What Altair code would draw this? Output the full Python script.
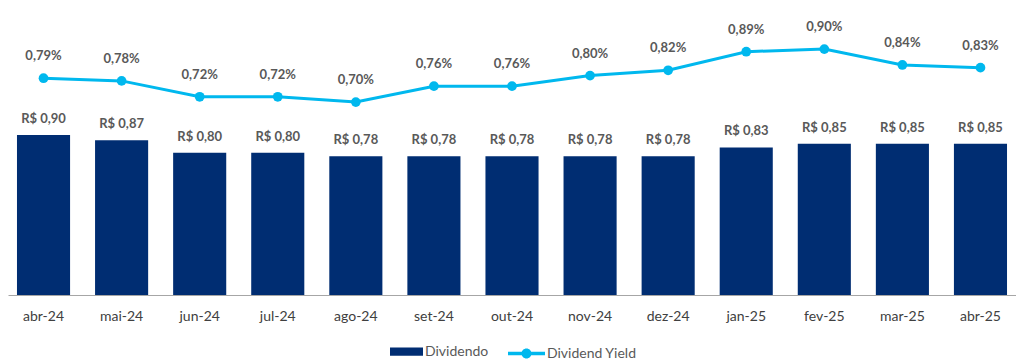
import altair as alt
import pandas as pd

months = ["abr-24", "mai-24", "jun-24", "jul-24", "ago-24", "set-24", "out-24",
          "nov-24", "dez-24", "jan-25", "fev-25", "mar-25", "abr-25"]
dividends = [0.90, 0.87, 0.80, 0.80, 0.78, 0.78, 0.78, 0.78, 0.78, 0.83, 0.85, 0.85, 0.85]
yields = [0.79, 0.78, 0.72, 0.72, 0.70, 0.76, 0.76, 0.80, 0.82, 0.89, 0.90, 0.84, 0.83]

NAVY = "#002D72"
CYAN = "#00B8EE"
TXT = "#595959"
FONT = "Lato"

df = pd.DataFrame({
    "mes": months,
    "div": dividends,
    "dy": yields,
    "s1": ["Dividendo"] * len(months),
    "s2": ["Dividend Yield"] * len(months),
})

base = alt.Chart(df).transform_calculate(
    divlab="'R$ ' + replace(format(datum.div, '.2f'), '.', ',')",
    dylab="replace(format(datum.dy, '.2f'), '.', ',') + '%'",
)

x = alt.X("mes:N", sort=months,
          scale=alt.Scale(paddingInner=0.32, paddingOuter=0.115),
          axis=alt.Axis(title=None, labelAngle=0, ticks=False, domainColor="#A6A6A6",
                        domainWidth=1, labelPadding=14, labelFont=FONT, labelFontSize=14,
                        labelColor="#404040"))

ybar = alt.Y("div:Q", scale=alt.Scale(domain=[0, 1.614]), axis=None)
yline = alt.Y("dy:Q", scale=alt.Scale(domain=[-0.028, 1.055]), axis=None)

bars = base.mark_bar().encode(
    x=x, y=ybar,
    color=alt.Color("s1:N", scale=alt.Scale(domain=["Dividendo"], range=[NAVY]),
                    legend=alt.Legend(title=None, orient="none", legendX=382, legendY=327,
                                      symbolType="M-1,-0.25L1,-0.25L1,0.25L-1,0.25Z",
                                      symbolSize=1089, symbolStrokeWidth=0,
                                      labelFont=FONT, labelFontSize=14, labelColor=TXT,
                                      labelOffset=2, padding=0)),
)

bar_text = base.mark_text(dy=-16, font=FONT, fontSize=13, fontWeight="bold", color=TXT).encode(
    x=x, y=ybar, text="divlab:N")

line = base.mark_line(color=CYAN, strokeWidth=3).encode(x=x, y=yline)

LINE_SYM = ("M-1,-0.09L-0.2,-0.09L-0.2,0.09L-1,0.09Z "
            "M0.2,-0.09L1,-0.09L1,0.09L0.2,0.09Z "
            "M-0.27,0A0.27,0.27 0 1,1 0.27,0A0.27,0.27 0 1,1 -0.27,0Z")

pts = base.mark_point(filled=True, size=95, opacity=1).encode(
    x=x, y=yline,
    color=alt.Color("s2:N", scale=alt.Scale(domain=["Dividend Yield"], range=[CYAN]),
                    legend=alt.Legend(title=None, orient="none", legendX=500, legendY=327,
                                      symbolType=LINE_SYM,
                                      symbolSize=1369, symbolStrokeWidth=0, symbolOpacity=1,
                                      labelFont=FONT, labelFontSize=14, labelColor=TXT,
                                      labelOffset=2, padding=0)),
)

line_text = base.mark_text(dy=-22, font=FONT, fontSize=13, fontWeight="bold", color=TXT).encode(
    x=x, y=yline, text="dylab:N")

chart = alt.layer(bars, bar_text, line, pts, line_text).resolve_scale(
    y="independent", color="independent"
).properties(width=1008, height=287, padding=0).configure_view(stroke=None)

chart.save("out.html", embed_options={"renderer": "svg", "actions": False})
